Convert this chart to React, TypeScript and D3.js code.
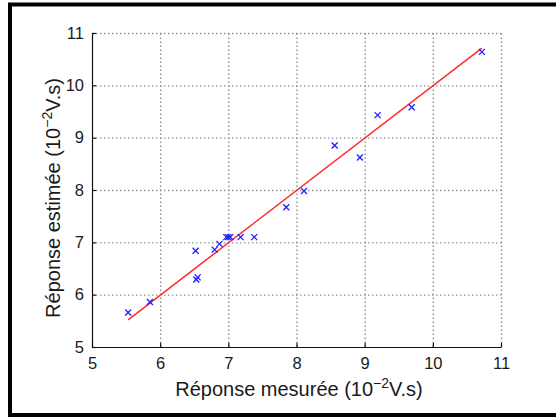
import React, { useEffect, useRef } from "react";
import * as d3 from "d3";

const width = 556,
  height = 419;

// mesures (x) et estimations (y), en 10^-2 V.s
const measured = [5.53, 5.85, 6.52, 6.53, 6.55, 6.8, 6.87, 6.97, 7.0, 7.03, 7.18, 7.38, 7.85, 8.11, 8.56, 8.93, 9.19, 9.69, 10.72];
const estimated = [5.66, 5.86, 6.84, 6.29, 6.33, 6.86, 6.97, 7.1, 7.1, 7.1, 7.1, 7.1, 7.67, 7.98, 8.85, 8.62, 9.43, 9.58, 10.64];

// droite de régression (extrémités)
const fitX = [5.53, 10.72];
const fitY = [5.52, 10.71];

const xTicks = [5, 6, 7, 8, 9, 10, 11];
const yTicks = [5, 6, 7, 8, 9, 10, 11];

const margin = { left: 92, right: 55, top: 33, bottom: 72 };

export default function App() {
  const ref = useRef<SVGSVGElement>(null);

  useEffect(() => {
    const svg = d3.select(ref.current);
    svg.selectAll("*").remove();

    const x = d3.scaleLinear().domain([5, 11]).range([margin.left, width - margin.right]);
    const y = d3.scaleLinear().domain([5, 11]).range([height - margin.bottom, margin.top]);

    //cadre extérieur
    svg
      .append("rect")
      .attr("x", 10)
      .attr("y", 4.5)
      .attr("width", 620)
      .attr("height", 410.5)
      .attr("fill", "white")
      .attr("stroke", "black")
      .attr("stroke-width", 4);

    //grille pointillée
    const gx = svg
      .append("g")
      .attr("transform", `translate(0,${y(5)})`)
      .call(d3.axisBottom(x).tickValues(xTicks.slice(1)).tickSize(-(y(5) - y(11))).tickFormat(() => ""));
    const gy = svg
      .append("g")
      .attr("transform", `translate(${x(5)},0)`)
      .call(d3.axisLeft(y).tickValues(yTicks.slice(1)).tickSize(-(x(11) - x(5))).tickFormat(() => ""));
    [gx, gy].forEach(g => {
      g.select(".domain").remove();
      g.selectAll(".tick line")
        .attr("stroke", "#8e8e8e")
        .attr("stroke-width", 1.4)
        .attr("stroke-dasharray", "1.4,2.6");
    });

    //axes (graduations intérieures)
    const font = "'Liberation Sans', Arial, sans-serif";
    const xAxis = svg
      .append("g")
      .attr("transform", `translate(0,${y(5)})`)
      .call(d3.axisBottom(x).tickValues(xTicks).tickFormat(d3.format("d")).tickSizeInner(-4).tickSizeOuter(0).tickPadding(10));
    const yAxis = svg
      .append("g")
      .attr("transform", `translate(${x(5)},0)`)
      .call(d3.axisLeft(y).tickValues(yTicks).tickFormat(d3.format("d")).tickSizeInner(-4).tickSizeOuter(0).tickPadding(8));

    [xAxis, yAxis].forEach(a => {
      a.select(".domain").attr("stroke", "#111").attr("stroke-width", 1.2);
      a.selectAll(".tick line").attr("stroke", "#111").attr("stroke-width", 1.2);
      a.selectAll(".tick text")
        .attr("font-family", font)
        .attr("font-size", 16.5)
        .attr("fill", "#1a1a1a");
    });

    //droite
    const line = d3
      .line<number>()
      .x((d, i) => x(fitX[i]))
      .y((d, i) => y(fitY[i]));
    svg
      .append("path")
      .datum(fitX)
      .attr("d", line)
      .attr("fill", "none")
      .attr("stroke", "#ff2a2a")
      .attr("stroke-width", 1.5);

    //points
    const s = 3;
    svg
      .append("g")
      .attr("stroke", "#1f1fff")
      .attr("stroke-width", 1.3)
      .selectAll("path")
      .data(measured.map((m, i) => [m, estimated[i]]))
      .join("path")
      .attr("d", d => {
        const cx = x(d[0]),
          cy = y(d[1]);
        return `M${cx - s},${cy - s}L${cx + s},${cy + s}M${cx - s},${cy + s}L${cx + s},${cy - s}`;
      });

    //titres des axes
    const label = (g: any, txt: string) => {
      const t = g
        .append("text")
        .attr("font-family", font)
        .attr("font-size", 20)
        .attr("fill", "#1a1a1a")
        .attr("text-anchor", "middle");
      t.append("tspan").text(`Réponse ${txt} (10`);
      t.append("tspan").attr("font-size", 14).attr("dy", -8).text("−2");
      t.append("tspan").attr("dy", 8).text("V.s)");
      return t;
    };
    label(svg.append("g").attr("transform", `translate(299,396)`), "mesurée");
    label(svg.append("g").attr("transform", `translate(60,198) rotate(-90)`), "estimée");
  }, []);

  return (
    <svg
      ref={ref}
      width={width}
      height={height}
      style={{ position: "absolute", left: 0, top: 0, overflow: "hidden", background: "white" }}
    />
  );
}
